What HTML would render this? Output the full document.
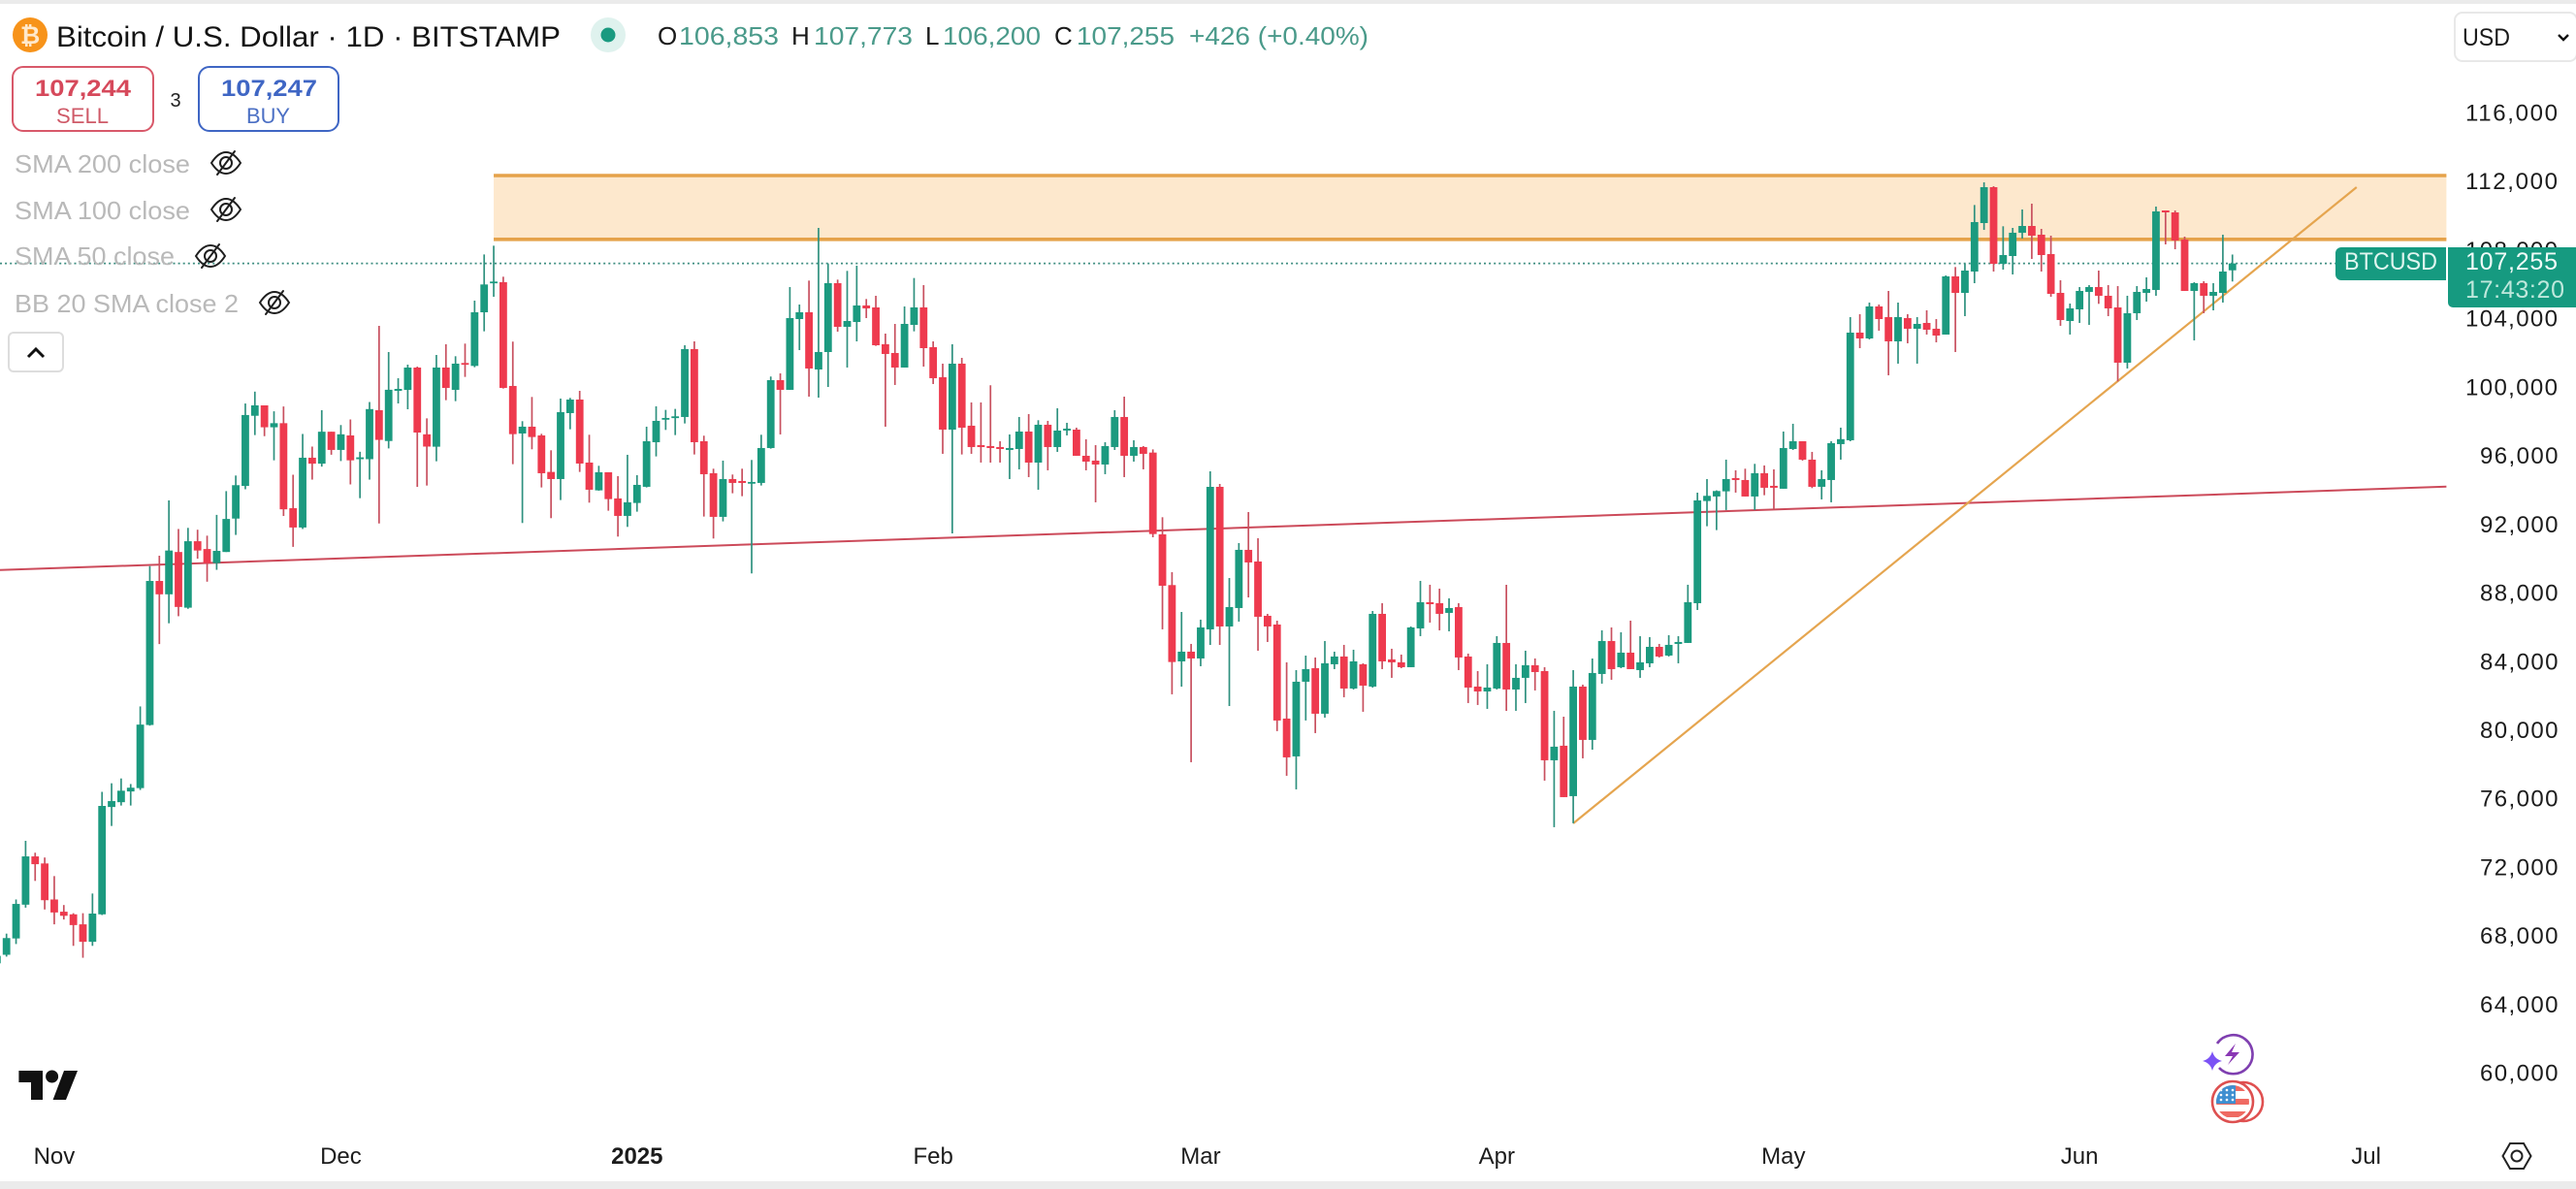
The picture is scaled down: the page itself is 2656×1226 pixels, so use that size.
<!DOCTYPE html>
<html lang="en">
<head>
<meta charset="utf-8">
<title>Bitcoin / U.S. Dollar 1D chart</title>
<style>
html,body{margin:0;padding:0;background:#fff;}
body{width:2656px;height:1226px;overflow:hidden;}
svg{display:block;}
text{font-family:"Liberation Sans",sans-serif;}
</style>
</head>
<body>
<svg id="chart" xmlns="http://www.w3.org/2000/svg" width="2656" height="1226" viewBox="0 0 2656 1226">
  <rect x="0" y="0" width="2656" height="1226" fill="#ffffff"/>
  <rect x="0" y="0" width="2656" height="4" fill="#ebebeb"/>
  <rect x="0" y="1218" width="2656" height="8" fill="#ebebeb"/>
  <g id="drawings"></g>
  <g id="candles"></g>
  <g id="yaxis"></g>
  <g id="xaxis"></g>

  <g>
    <path d="M2522 255H2414a6 6 0 0 0-6 6V283a6 6 0 0 0 6 6H2522Z" fill="#169a80"/>
    <text x="2417" y="278" font-size="25" fill="#dff5ef" textLength="96" lengthAdjust="spacingAndGlyphs">BTCUSD</text>
    <path d="M2524 255H2656V317H2529a5 5 0 0 1-5-5Z" fill="#169a80"/>
    <text x="2542" y="278" font-size="25" fill="#f0fbf8" textLength="95" lengthAdjust="spacing">107,255</text>
    <text x="2542" y="307" font-size="25" fill="#bfe8dc" textLength="102" lengthAdjust="spacing">17:43:20</text>
  </g>

  <g>
    <circle cx="31" cy="36" r="18" fill="#f7931a"/>
    <text x="31" y="45" font-size="25" font-weight="700" fill="#ffe9cc" text-anchor="middle" style="font-family:'DejaVu Sans',sans-serif">₿</text>
    <text x="58" y="48" font-size="30" fill="#141414" textLength="520" lengthAdjust="spacingAndGlyphs">Bitcoin / U.S. Dollar · 1D · BITSTAMP</text>
    <circle cx="627" cy="36" r="18" fill="#dff2ee"/>
    <circle cx="627" cy="36" r="7.5" fill="#1a9a80"/>
    <text x="678" y="46" font-size="26" fill="#1a1a1a">O</text>
    <text x="700" y="46" font-size="26" fill="#4a9a8a" textLength="103" lengthAdjust="spacingAndGlyphs">106,853</text>
    <text x="816" y="46" font-size="26" fill="#1a1a1a">H</text>
    <text x="839" y="46" font-size="26" fill="#4a9a8a" textLength="102" lengthAdjust="spacingAndGlyphs">107,773</text>
    <text x="954" y="46" font-size="26" fill="#1a1a1a">L</text>
    <text x="972" y="46" font-size="26" fill="#4a9a8a" textLength="101" lengthAdjust="spacingAndGlyphs">106,200</text>
    <text x="1087" y="46" font-size="26" fill="#1a1a1a">C</text>
    <text x="1110" y="46" font-size="26" fill="#4a9a8a" textLength="101" lengthAdjust="spacingAndGlyphs">107,255</text>
    <text x="1226" y="46" font-size="26" fill="#4a9a8a" textLength="185" lengthAdjust="spacingAndGlyphs">+426 (+0.40%)</text>
  </g>

  <g>
    <rect x="13" y="69" width="145" height="66" rx="11" fill="#fff" stroke="#d8596a" stroke-width="2"/>
    <text x="36" y="99" font-size="24" font-weight="700" fill="#d6495b" textLength="99" lengthAdjust="spacingAndGlyphs">107,244</text>
    <text x="58" y="127" font-size="22" fill="#cf5a68" textLength="54" lengthAdjust="spacingAndGlyphs">SELL</text>
  </g>
  <text x="181" y="110" font-size="20" fill="#222" text-anchor="middle">3</text>
  <g>
    <rect x="205" y="69" width="144" height="66" rx="11" fill="#fff" stroke="#3f66c4" stroke-width="2"/>
    <text x="228" y="99" font-size="24" font-weight="700" fill="#3f66c4" textLength="99" lengthAdjust="spacingAndGlyphs">107,247</text>
    <text x="254" y="127" font-size="22" fill="#4b6fc4" textLength="45" lengthAdjust="spacingAndGlyphs">BUY</text>
  </g>

  <g fill="#b9b9b9" font-size="26">
    <text x="15" y="178" textLength="181" lengthAdjust="spacingAndGlyphs">SMA 200 close</text>
    <text x="15" y="226" textLength="181" lengthAdjust="spacingAndGlyphs">SMA 100 close</text>
    <text x="15" y="273" textLength="165" lengthAdjust="spacingAndGlyphs">SMA 50 close</text>
    <text x="15" y="322" textLength="231" lengthAdjust="spacingAndGlyphs">BB 20 SMA close 2</text>
  </g>
  <g fill="none" stroke="#1f1f1f" stroke-width="2" stroke-linecap="round">
    <g transform="translate(233 168)"><path d="M-15 0Q-8-11 0-11T15 0Q8 11 0 11T-15 0Z"/><circle r="6"/><path d="M-9 12L9-12"/></g>
    <g transform="translate(233 216)"><path d="M-15 0Q-8-11 0-11T15 0Q8 11 0 11T-15 0Z"/><circle r="6"/><path d="M-9 12L9-12"/></g>
    <g transform="translate(217 264)"><path d="M-15 0Q-8-11 0-11T15 0Q8 11 0 11T-15 0Z"/><circle r="6"/><path d="M-9 12L9-12"/></g>
    <g transform="translate(283 312)"><path d="M-15 0Q-8-11 0-11T15 0Q8 11 0 11T-15 0Z"/><circle r="6"/><path d="M-9 12L9-12"/></g>
  </g>

  <g>
    <rect x="9" y="343" width="56" height="40" rx="5" fill="#fff" stroke="#dddddd" stroke-width="2"/>
    <path d="M29 368L37 360L45 368" fill="none" stroke="#111" stroke-width="3"/>
  </g>

  <g>
    <rect x="2531" y="13" width="126" height="50" rx="8" fill="#fff" stroke="#e8e8e8" stroke-width="2"/>
    <text x="2539" y="47" font-size="25" fill="#1a1a1a" textLength="49" lengthAdjust="spacingAndGlyphs">USD</text>
    <path d="M2638 36L2643 41L2648 36" fill="none" stroke="#111" stroke-width="2.4"/>
  </g>

  <g fill="#111111">
    <path d="M19.4 1104H44V1134H32V1116H19.4Z"/>
    <circle cx="53.6" cy="1110" r="6.5"/>
    <path d="M66 1104H80L68 1134H54.6Z"/>
  </g>

  <g>
    <path d="M2286 1076A20 20 0 1 1 2288 1101" fill="none" stroke="#7f3fb0" stroke-width="2.6"/>
    <path d="M2305 1076L2294 1089H2302L2297 1098L2309 1085H2301Z" fill="#8a38b4"/>
    <path d="M2281 1084Q2283 1092 2291 1094Q2283 1096 2281 1104Q2279 1096 2271 1094Q2279 1092 2281 1084Z" fill="#7b52f5"/>
  </g>
  <g>
    <circle cx="2313" cy="1136" r="20" fill="#fff" stroke="#e05050" stroke-width="2.6"/>
    <clipPath id="flagClip"><circle cx="2302" cy="1136" r="17"/></clipPath>
    <circle cx="2302" cy="1136" r="21" fill="#fff" stroke="#dd5050" stroke-width="2.6"/>
    <g clip-path="url(#flagClip)">
      <rect x="2285" y="1119" width="34" height="6" fill="#ef6a62"/>
      <rect x="2285" y="1133" width="34" height="6" fill="#ef6a62"/>
      <rect x="2285" y="1146" width="34" height="6" fill="#ef6a62"/>
      <rect x="2285" y="1119" width="20" height="19" fill="#3f8fd0"/>
      <g fill="#fff"><circle cx="2290" cy="1124" r="1.3"/><circle cx="2296" cy="1124" r="1.3"/><circle cx="2302" cy="1124" r="1.3"/><circle cx="2290" cy="1129" r="1.3"/><circle cx="2296" cy="1129" r="1.3"/><circle cx="2302" cy="1129" r="1.3"/><circle cx="2290" cy="1134" r="1.3"/><circle cx="2296" cy="1134" r="1.3"/><circle cx="2302" cy="1134" r="1.3"/></g>
    </g>
  </g>

  <g fill="none" stroke="#222" stroke-width="2">
    <path d="M2580.5 1192L2588 1179H2602L2609.5 1192L2602 1205H2588Z"/>
    <circle cx="2595" cy="1192" r="5.5"/>
  </g>
</svg>

<script>
// One entry per daily bar (all prices in USD), first bar partly off the left edge.
var opens = [66436,
66934,67887,69857,72672,72261,70160,69446,69294,68710,67692,
69294,75552,75833,76460,76655,80336,88736,87957,90425,87177,
91053,90598,89775,90425,92373,94278,98370,98976,97699,97937,
92979,91854,95924,95577,97439,96378,97223,95837,95837,98695,
96898,99824,99881,101181,97288,96565,101183,99882,101447,101277,
104406,106121,106159,100108,97337,97733,97224,95094,94679,98525,
99316,95640,94020,95075,93548,92530,93284,94227,96828,98166,
98261,98299,102257,96885,95019,92474,94679,94566,94434,94453,
96489,100447,99882,104010,104406,101069,102087,106102,103558,103840,
104802,104689,102540,102031,101183,103671,104689,102370,100617,97563,
101409,97790,96658,96602,96546,96376,96432,97450,95640,97846,
96546,97507,97563,96036,95754,95528,96546,98299,96036,96546,
96223,91454,88495,84046,84612,84216,85913,94225,86082,87157,
90550,89871,86704,86195,80710,78505,82859,83650,80993,83877,
84329,82463,83877,82576,86817,84160,83990,83707,85969,87496,
87439,86874,87213,84329,82576,82293,82463,85121,82406,83085,
83820,83481,78278,79127,76186,82576,79466,83311,85234,83707,
84555,83537,83933,84894,84386,85064,85121,87439,93398,93662,
93963,94736,94623,93662,95019,94284,94114,96433,96885,95811,
94227,94623,96716,96942,103219,102880,104746,104124,102710,104067,
103445,103784,103445,103106,106499,105537,106782,109609,111701,107234,
107686,109044,109439,108930,107799,105537,103897,104576,105594,105877,
105368,104689,101466,104350,105537,105707,110344,110231,108648,105651,
106103,105368,105537,106853];

var closes = [66870,
67909,69900,72672,72218,70117,69402,69208,68667,67692,69337,
75616,75898,76504,76677,80358,88736,87957,90511,87220,91053,
90511,89775,90490,92352,94322,98414,98976,97699,97937,92914,
91854,95924,95577,97439,96378,97288,95772,95945,98760,96963,
99886,99937,101181,97392,96573,101183,99995,101409,101371,104406,
106027,106197,99995,97299,97733,97130,95019,94679,98581,99316,
95584,94057,95075,93510,92530,93322,94340,96885,98072,98242,
98336,102257,96828,94962,92474,94679,94453,94453,94510,96489,
100447,99882,104067,104406,101126,102087,106102,103558,103897,104802,
104632,102483,101974,101183,103727,104689,102313,100561,97563,101409,
97676,96546,96546,96489,96432,96489,97450,95640,97846,96546,
97507,97620,96036,95697,95528,96602,98299,96036,96546,96150,
91473,88457,84009,84612,84216,86025,94225,86082,87213,90550,
89815,86648,86082,80597,78448,82859,83594,80993,83933,84329,
82463,84046,82632,86817,84046,83990,83707,86025,87496,87383,
86817,87157,84273,82519,82293,82519,85121,82406,83085,83820,
83424,78278,79070,76129,82576,79466,83368,85234,83594,84555,
83594,83990,84894,84329,85008,85177,87496,93434,93700,93982,
94680,94623,93662,95019,94171,94171,96489,96885,95811,94227,
94680,96772,97006,103219,102880,104746,104010,102710,104124,103445,
103728,103388,103049,106499,105537,106838,109666,111701,107234,107743,
109044,109439,108874,107743,105481,103954,104633,105651,105877,105368,
104633,101466,104350,105594,105764,110288,110231,108591,105651,106103,
105368,105594,106782,107255];

var highs = [66980,
68168,70160,73581,72888,72607,71524,69836,69359,69359,70507,
76439,76937,77218,76894,81418,89602,90208,93434,91767,91832,
91724,91377,92590,93975,94885,99085,99778,98976,98630,98912,
94928,97309,96573,98695,97439,97829,98154,96270,99171,103613,
102086,100559,101351,101238,98219,101917,102540,101842,102578,105085,
107780,108289,106479,102691,98054,99467,97318,96357,99373,99410,
99825,97262,95452,95075,94849,96093,94906,97733,98921,98713,
98770,102483,102709,97205,95282,95754,94943,95282,95792,97262,
100655,100843,105876,104858,106253,109326,107252,106310,106819,107120,
105179,105367,103162,103727,104745,106404,105989,102709,101409,102540,
101748,99147,99147,100146,96885,97281,98299,98468,98110,98072,
98807,97959,97676,96998,96658,96828,98694,99486,96941,96602,
96412,92453,89249,86930,85064,86478,95130,94395,88910,90945,
92755,91228,86817,86421,83990,83537,84386,84273,85234,84612,
85008,84725,83933,86987,87439,84782,84442,86082,88740,88514,
88288,87722,87439,84499,83481,83877,85517,88514,83877,84668,
84216,83707,81162,80823,83537,82689,84216,85856,86025,85743,
86421,85517,85460,85064,85573,85517,88514,93886,94680,94020,
95811,95189,95283,95566,95472,95245,97451,97903,96885,96263,
95189,96885,97677,104124,104293,104972,104859,105650,104972,104293,
104124,104520,104010,106555,107045,107234,110665,111984,111758,109421,
109326,110401,110740,109270,108874,106273,104915,105877,105990,106838,
105990,105933,105368,105933,106442,110570,110344,110344,108817,106159,
106216,106103,108930,107773];

var lows = [66300,
66826,67562,69684,71243,69576,68710,68991,67455,66761,67455,
69251,74447,75638,75638,76547,80293,85056,86268,86679,87112,
90035,88693,89385,90425,91421,94084,97244,97180,95772,92525,
90728,91767,94646,95404,96097,95729,94365,93564,94646,92092,
96465,99089,98749,94224,94300,95716,99279,99222,100636,101201,
103294,105311,99957,95546,92116,96414,94189,92398,93454,97582,
95094,93303,94001,92832,91324,91889,92776,94189,95999,97544,
97243,97921,96112,92493,91211,92210,93850,93680,89175,94302,
96451,97281,99882,102200,99486,99429,100052,103275,101183,102709,
104067,102446,97733,100165,101183,103294,101239,100221,96150,91513,
96112,96150,95641,95641,95641,94679,95245,94792,94057,95188,
96263,97224,96036,95188,93322,94962,96376,94792,95697,95245,
91285,85913,82124,82576,78165,83763,85008,85008,81445,86365,
87779,84668,85177,79975,77373,76582,80597,79862,80767,83594,
81954,82406,81106,82519,83594,83085,83650,83707,85517,86308,
85856,85799,83537,81615,81502,81275,82406,81162,81162,81615,
82350,77091,74376,76129,74602,78391,78900,82746,82972,83650,
83594,83085,83707,84273,84329,83933,85121,87043,91928,91702,
92870,93888,93662,92870,93737,92927,94114,96376,95754,94152,
93492,93323,95811,96885,102314,102823,103332,100731,101409,102597,
101409,103106,102653,103106,102088,104180,106103,109213,106782,106895,
106612,108704,107517,106782,105311,103615,103106,103784,103671,104897,
104180,100373,101127,103954,105028,105368,108365,108082,105651,102766,
104350,104519,104972,106200];

var priceTicks = [116000,112000,108000,104000,100000,96000,92000,88000,84000,80000,76000,72000,68000,64000,60000];
var monthLabels = ['Nov','Dec','2025','Feb','Mar','Apr','May','Jun','Jul'];
var monthBars = [6,36,67,98,126,157,187,218,248];
var lastPrice = 107255;
var zoneTop = 112380;
var zoneBottom = 108660;
var zoneStartBar = 52;
var zoneEndBar = 256.4;
var redLineBars = [-0.32, 256.4];
var redLinePrices = [89360, 94236];
var orangeLineBars = [165, 247];
var orangeLinePrices = [74598, 111701];

function xOf(bar){ return -3.15 + 9.85 * bar; }
function yOf(price){ return 117 + (116000 - price) / 56.56; }

var NS = 'http://www.w3.org/2000/svg';
function make(parent, tag, attrs, text){
  var el = document.createElementNS(NS, tag);
  for (var k in attrs) el.setAttribute(k, attrs[k]);
  if (text !== undefined) el.textContent = text;
  parent.appendChild(el);
  return el;
}

var drawings = document.getElementById('drawings');
var zoneX1 = xOf(zoneStartBar), zoneX2 = xOf(zoneEndBar);

var zoneFill = make(drawings, 'rect', {x:zoneX1, y:yOf(zoneTop), width:zoneX2-zoneX1, height:yOf(zoneBottom)-yOf(zoneTop), fill:'#fde8cd'});



var zoneTopLine = make(drawings, 'line', {x1:zoneX1, x2:zoneX2, y1:yOf(zoneTop), y2:yOf(zoneTop), stroke:'#e5a24a', 'stroke-width':3.6});



var zoneBottomLine = make(drawings, 'line', {x1:zoneX1, x2:zoneX2, y1:yOf(zoneBottom), y2:yOf(zoneBottom), stroke:'#e5a24a', 'stroke-width':3.6});



var lastLine = make(drawings, 'line', {x1:0, x2:2408, y1:yOf(lastPrice), y2:yOf(lastPrice), stroke:'#3c8d80', 'stroke-width':1.7, 'stroke-dasharray':'2 3.1'});



var redLine = make(drawings, 'line', {x1:xOf(redLineBars[0]), x2:xOf(redLineBars[1]), y1:yOf(redLinePrices[0]), y2:yOf(redLinePrices[1]), stroke:'#cc4a5a', 'stroke-width':2});



var orangeLine = make(drawings, 'line', {x1:xOf(orangeLineBars[0]), x2:xOf(orangeLineBars[1]), y1:yOf(orangeLinePrices[0]), y2:yOf(orangeLinePrices[1]), stroke:'#e5a54f', 'stroke-width':2.2});



var candlesGroup = document.getElementById('candles');
for (var i = 0; i < opens.length; i++) {
  var isUp = closes[i] >= opens[i];
  var barX = xOf(i);
  var bodyTopY = yOf(Math.max(opens[i], closes[i]));
  var bodyBottomY = yOf(Math.min(opens[i], closes[i]));
  var candleGroup = make(candlesGroup, 'g', {});
  
  
  var wick = make(candleGroup, 'line', {x1:barX, x2:barX, y1:yOf(highs[i]), y2:yOf(lows[i]), stroke: isUp ? '#2f917f' : '#c8505f', 'stroke-width':1.7});
  
  
  var body = make(candleGroup, 'rect', {x:barX-3.9, y:bodyTopY, width:7.8, height:Math.max(bodyBottomY-bodyTopY, 1.8), fill: isUp ? '#1b9a7f' : '#ee3a4e'});
  
  
}

var yaxis = document.getElementById('yaxis');
priceTicks.forEach(function(p){
  var label = p.toLocaleString('en-US');
  var t = make(yaxis, 'text', {x: p >= 100000 ? 2542 : 2557, y: yOf(p) + 7.5, 'font-size':24, fill:'#1c1c1c', textLength: p >= 100000 ? 95 : 80.5, lengthAdjust:'spacing'}, label);
  
  
});

var xaxis = document.getElementById('xaxis');
monthLabels.forEach(function(m, idx){
  var isYear = m === '2025';
  var t = make(xaxis, 'text', {x:xOf(monthBars[idx]), y:1200, 'font-size':24, 'font-weight': isYear ? 700 : 400, fill:'#1c1c1c', 'text-anchor':'middle'}, m);
  
  
});
</script>
</body>
</html>
